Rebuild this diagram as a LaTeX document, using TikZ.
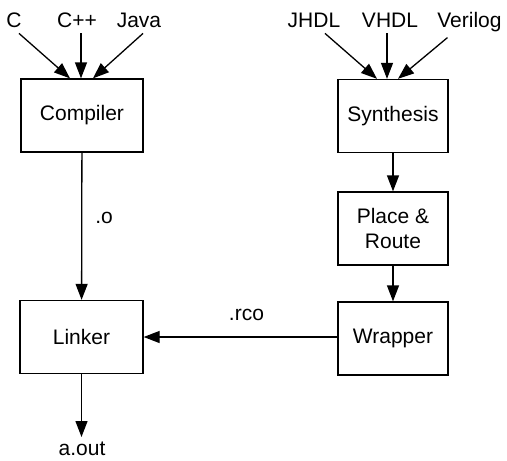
\documentclass[tikz,border=0pt]{standalone}
\usepackage{fontspec}
\setmainfont{Liberation Sans}
\usetikzlibrary{arrows.meta, positioning, calc}

\begin{document}
\begin{tikzpicture}[
    x=1pt, y=-1pt,
    >={Triangle[length=16pt, width=12pt]},
    toolbox/.style={draw, rectangle, line width=1.3pt, minimum width=110pt, minimum height=73pt, font=\fontsize{21}{25}\selectfont, align=center},
    srclabel/.style={anchor=base, inner sep=0pt, font=\fontsize{21}{25}\selectfont},
    extlabel/.style={inner sep=0pt, font=\fontsize{21}{25}\selectfont},
    flow/.style={->, line width=1.3pt}
]
    \useasboundingbox (0,0) rectangle (507,461);

    % software side
    \node[toolbox, minimum width=122pt] (Comp)   at (82,115.5) {Compiler};
    \node[toolbox, minimum width=123pt] (Link)   at (81.5,337) {Linker};
    \node[srclabel] (SrcC)    at (14,27)  {C};
    \node[srclabel] (SrcCpp)  at (77,27)  {C++};
    \node[srclabel] (SrcJava) at (139,27) {Java};
    \coordinate (AOut) at (81.5,437);
    \node[srclabel] (AOutLbl) at (82,455) {a.out};

    % hardware side
    \node[toolbox] (Synth) at (393,116) {Synthesis};
    \node[toolbox] (PnR)   at (393,228.5) {Place \&\\Route};
    \node[toolbox] (Wrap)  at (393,338.5) {Wrapper};
    \node[srclabel] (SrcJhdl)    at (314,27)   {JHDL};
    \node[srclabel] (SrcVhdl)    at (390,27)   {VHDL};
    \node[srclabel] (SrcVerilog) at (469.5,27) {Verilog};

    \draw[flow] ($(SrcC.south)+(5,6)$)       -- ([xshift=-12pt]Comp.north);
    \draw[flow] ($(SrcCpp.south)+(4,6)$)     -- ([xshift=-1pt]Comp.north);
    \draw[flow] ($(SrcJava.south)+(4,6)$)    -- ([xshift=11pt]Comp.north);
    \draw[flow] ($(SrcJhdl.south)+(11,6)$)   -- ([xshift=-16pt]Synth.north);
    \draw[flow] ($(SrcVhdl.south)+(-3,6)$)   -- ([xshift=-6pt]Synth.north);
    \draw[flow] ($(SrcVerilog.south)+(-22,6)$) -- ([xshift=5pt]Synth.north);

    \draw[flow] (Comp) -- (Link) node[extlabel, midway, anchor=base west, xshift=13pt, yshift=3pt] {.o};
    \draw[flow] (Synth) -- (PnR);
    \draw[flow] (PnR) -- (Wrap);
    \draw[flow] (Wrap.west |- Link.east) -- (Link.east) node[extlabel, midway, anchor=base, xshift=6pt, yshift=17pt] {.rco};
    \draw[flow] (Link) -- (AOut);

\end{tikzpicture}
\end{document}
